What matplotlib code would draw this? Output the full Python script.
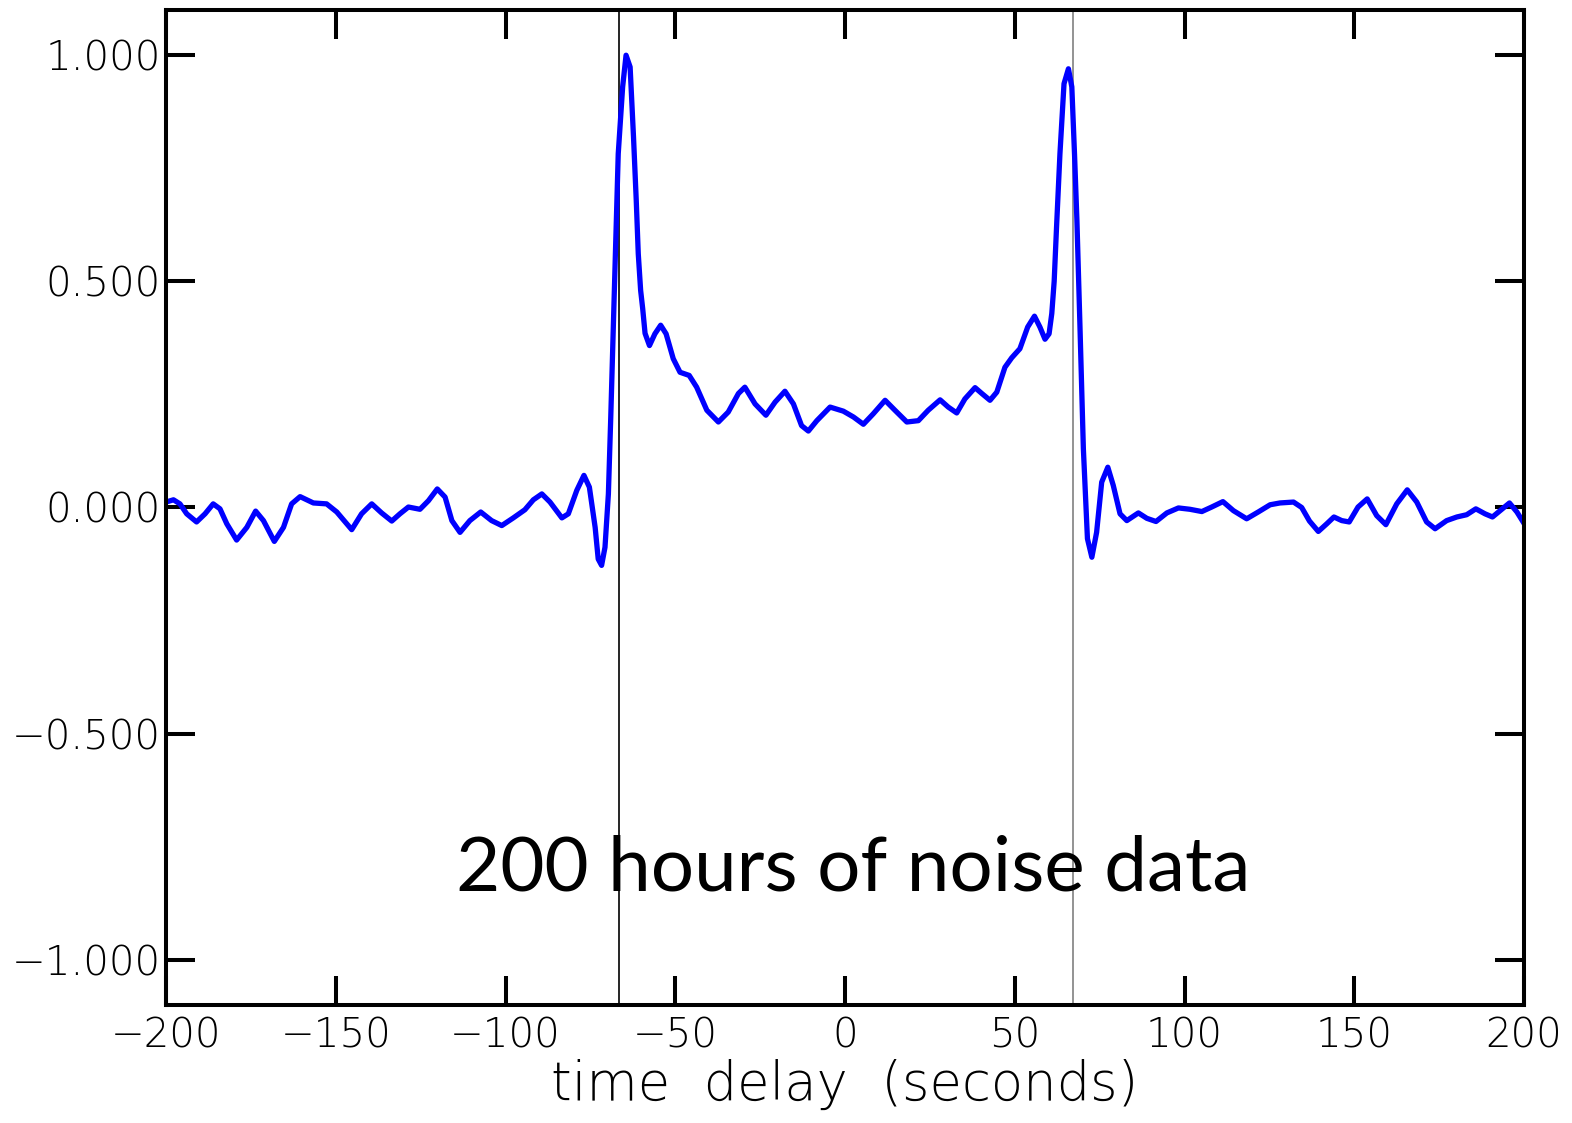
import matplotlib
matplotlib.use('Agg')
import matplotlib.pyplot as plt

# Cross-correlation curve (time delay in s, normalised correlation)
delay = [
    -200.0, -197.8, -195.9, -193.9, -191.0, -188.5, -186.1, -184.1, -182.1, -179.2,
    -176.2, -173.6, -171.3, -168.1, -165.4, -163.0, -160.5, -156.6, -152.7, -149.7,
    -145.3, -142.4, -139.4, -136.5, -133.5, -131.1, -128.6, -125.2, -122.7, -120.1,
    -117.8, -115.8, -113.4, -110.5, -107.3, -104.1, -101.1, -97.7, -94.3, -91.8,
    -89.3, -86.9, -83.4, -81.5, -79.0, -76.9, -75.3, -73.6, -72.7, -71.7,
    -70.7, -69.7, -69.0, -68.2, -67.4, -66.8, -65.5, -64.5, -63.3, -62.3,
    -61.5, -60.9, -60.2, -59.6, -58.9, -57.6, -56.0, -54.3, -52.7, -50.6,
    -48.6, -45.9, -43.7, -40.7, -37.3, -34.4, -31.4, -29.5, -26.5, -23.3,
    -20.6, -17.7, -15.2, -12.8, -10.8, -8.3, -4.4, -0.5, 2.5, 5.4,
    8.3, 11.8, 14.7, 18.2, 21.6, 24.5, 28.0, 30.4, 32.9, 35.3,
    38.3, 40.3, 42.7, 44.7, 47.1, 49.1, 51.5, 53.8, 55.8, 57.4,
    58.9, 60.1, 60.9, 61.6, 62.3, 63.3, 64.5, 65.8, 66.8, 67.6,
    68.3, 69.2, 70.2, 71.4, 72.7, 74.1, 75.6, 77.4, 79.0, 81.0,
    83.0, 86.4, 88.9, 91.6, 94.8, 98.2, 101.6, 105.1, 108.0, 111.3,
    114.4, 118.3, 121.7, 125.2, 128.1, 132.1, 134.5, 136.8, 139.4, 141.9,
    144.0, 146.3, 148.5, 151.1, 153.8, 156.6, 159.3, 162.5, 165.6, 168.4,
    171.3, 173.8, 177.2, 180.2, 183.1, 185.8, 188.5, 190.7, 193.3, 195.7,
    197.9, 200.8,
]
corr = [
    0.012, 0.017, 0.008, -0.014, -0.032, -0.014, 0.008, -0.003, -0.036, -0.072,
    -0.044, -0.008, -0.029, -0.075, -0.044, 0.008, 0.024, 0.010, 0.008, -0.010,
    -0.049, -0.014, 0.008, -0.012, -0.030, -0.014, 0.001, -0.004, 0.015, 0.041,
    0.023, -0.029, -0.055, -0.029, -0.010, -0.029, -0.040, -0.023, -0.005, 0.017,
    0.030, 0.012, -0.023, -0.014, 0.038, 0.071, 0.045, -0.044, -0.114, -0.128,
    -0.088, 0.030, 0.200, 0.414, 0.620, 0.782, 0.930, 1.000, 0.974, 0.819,
    0.680, 0.561, 0.480, 0.440, 0.385, 0.358, 0.384, 0.403, 0.384, 0.329,
    0.299, 0.292, 0.266, 0.215, 0.189, 0.211, 0.252, 0.266, 0.229, 0.204,
    0.233, 0.257, 0.229, 0.181, 0.169, 0.192, 0.222, 0.213, 0.200, 0.184,
    0.207, 0.237, 0.215, 0.189, 0.192, 0.215, 0.238, 0.222, 0.209, 0.240,
    0.265, 0.252, 0.237, 0.255, 0.310, 0.331, 0.351, 0.399, 0.423, 0.399,
    0.372, 0.384, 0.429, 0.500, 0.620, 0.782, 0.937, 0.970, 0.930, 0.780,
    0.635, 0.400, 0.130, -0.069, -0.110, -0.055, 0.056, 0.089, 0.049, -0.014,
    -0.029, -0.012, -0.024, -0.031, -0.012, -0.001, -0.004, -0.009, 0.001, 0.013,
    -0.007, -0.025, -0.010, 0.006, 0.010, 0.012, 0.000, -0.030, -0.053, -0.036,
    -0.021, -0.029, -0.032, 0.001, 0.019, -0.018, -0.038, 0.008, 0.039, 0.012,
    -0.032, -0.047, -0.029, -0.021, -0.016, -0.003, -0.014, -0.021, -0.005, 0.010,
    -0.010, -0.045,
]

x_ticks = [-200, -150, -100, -50, 0, 50, 100, 150, 200]
y_ticks = [-1.0, -0.5, 0.0, 0.5, 1.0]
marker_delays = [-66.5, 67.0]
marker_colors = ['black', 'grey']
note = '200 hours of noise data'

TICK_FONT = 29
LABEL_FONT = 38
NOTE_FONT = 55

fig = plt.figure(figsize=(15.72, 11.23), dpi=100)
ax = fig.add_axes([0.1056, 0.1051, 0.8639, 0.886])

for xd, c in zip(marker_delays, marker_colors):
    ax.axvline(xd, color=c, linewidth=1.2, zorder=1)

ax.plot(delay, corr, color='#0000ff', linewidth=3.8, solid_joinstyle='round',
        solid_capstyle='round', zorder=2)

ax.set_xlim(-200, 200)
ax.set_ylim(-1.1, 1.1)
ax.set_xticks(x_ticks)
ax.set_yticks(y_ticks)
ax.set_xticklabels([str(v).replace('-', '\u2212') for v in x_ticks])
ax.set_yticklabels([f'{v:.3f}'.replace('-', '\u2212') for v in y_ticks])

ax.tick_params(axis='both', which='major', direction='in', length=21, width=2.9,
               top=True, right=True, labelsize=TICK_FONT)
ax.tick_params(axis='y', pad=4)
ax.tick_params(axis='x', pad=8)
for lab in ax.get_xticklabels() + ax.get_yticklabels():
    lab.set_fontfamily('DejaVu Sans')
    lab.set_fontweight('light')
for sp in ax.spines.values():
    sp.set_linewidth(2.9)

ax.set_xlabel('time  delay  (seconds)', fontsize=LABEL_FONT, family='DejaVu Sans',
              fontweight='light', labelpad=3)

ax.text(2.4, -0.80, note, fontsize=NOTE_FONT, family=['Lato', 'DejaVu Sans'],
        ha='center', va='center')

fig.savefig('out.png', dpi=100)
plt.close(fig)
